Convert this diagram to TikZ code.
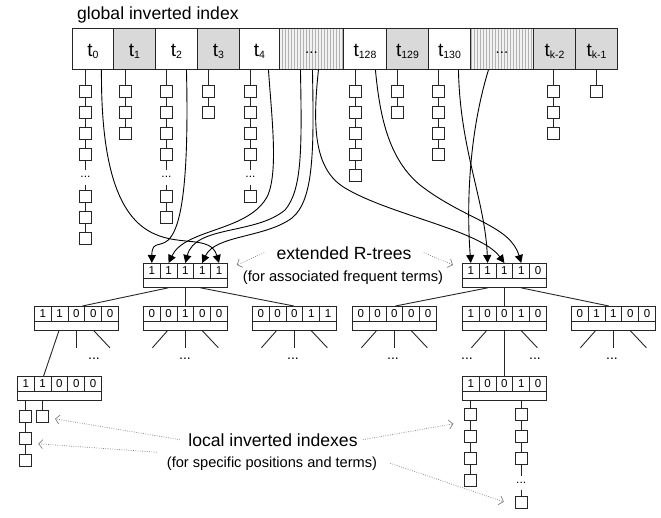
\documentclass[tikz,border=0pt]{standalone}
\usepackage{fontspec}
\setmainfont{Liberation Sans}
\usetikzlibrary{arrows.meta,patterns,calc}

\newcommand\fsz[1]{\fontsize{#1}{#1}\selectfont}
\newcommand\tsub[1]{\raisebox{-2pt}{\fsz{10.5}#1}}
\def\pltxts{}
\def\pltxtd{...}

% posting list hanging below the coordinate (#1-h):
% #2 offset of the first item, #3 pitch, #4 items (s = entry box, d = dots)
\newcommand\plist[4]{%
  \foreach \kind [count=\k, remember=\k as \prev (initially h)] in {#4} {%
    \path (#1-h) ++(0,{#2+#3*(\k-1)}) node[pl\kind] (#1-\k) {\csname pltxt\kind\endcsname};
    \draw[link] (#1-\prev) -- (#1-\k);
  }%
}

\tikzset{
  term/.style={draw=black!85, line width=0.9pt, minimum height=41pt, inner sep=0,
    anchor=north west, font=\fsz{19}, text height=15pt, text depth=0pt},
  termg/.style={term, fill=black!15},
  termd/.style={term, preaction={fill=black!5}, pattern=vertical lines,
    pattern color=black!30, font=\fsz{15}, text height=10pt},
  bitcell/.style={draw=black!85, line width=0.8pt, minimum width=16.8pt, minimum height=15pt,
    inner sep=0, anchor=north west, font=\fsz{11.5}},
  bitbar/.style={draw=black!85, line width=0.8pt, minimum width=84pt, minimum height=9pt,
    inner sep=0, anchor=north west},
  pls/.style={draw=black!85, line width=0.8pt, minimum width=12pt, minimum height=12pt, inner sep=0},
  pld/.style={minimum height=14pt, inner sep=0, yshift=-2pt, font=\fsz{12}},
  link/.style={line width=0.8pt, draw=black!85},
  edge/.style={line width=0.9pt, draw=black!85},
  flow/.style={line width=0.9pt, -{Triangle[length=8pt,width=8pt]}},
  note/.style={draw=black!50, line width=0.7pt, dash pattern=on 0.8pt off 1.5pt,
    -{Straight Barb[length=4pt,width=9pt,line width=0.7pt]}},
  treedots/.style={font=\fsz{14}, inner sep=0},
  bitbox/.pic={
    \foreach \b [count=\i] in {#1} {
      \node[bitcell] (-c\i) at ({16.8*(\i-1)},0) {\b};
    }
    \node[bitbar] (-bar) at (0,15) {};
  }
}

\begin{document}
\begin{tikzpicture}[x=1pt, y=-1pt]
\useasboundingbox (0,0) rectangle (661,517);

\node[anchor=base west, font=\fsz{17.6}, inner sep=0] (title) at (77,19) {global inverted index};

% global term table
\node[term,  minimum width=41pt] (t0)   at (72,28)  {t\tsub{0}};
\node[termg, minimum width=42pt] (t1)   at (113,28) {t\tsub{1}};
\node[term,  minimum width=42pt] (t2)   at (155,28) {t\tsub{2}};
\node[termg, minimum width=42pt] (t3)   at (197,28) {t\tsub{3}};
\node[term,  minimum width=40pt] (t4)   at (239,28) {t\tsub{4}};
\node[termd, minimum width=64pt] (d1)   at (279,28) {...};
\node[term,  minimum width=43pt] (t128) at (343,28) {t\tsub{128}};
\node[termg, minimum width=42pt] (t129) at (386,28) {t\tsub{129}};
\node[term,  minimum width=42pt] (t130) at (428,28) {t\tsub{130}};
\node[termd, minimum width=63pt] (d2)   at (470,28) {...};
\node[termg, minimum width=42pt] (tk2)  at (533,28) {t\tsub{k-2}};
\node[termg, minimum width=42pt] (tk1)  at (575,28) {t\tsub{k-1}};

% posting lists of the global index
\coordinate (p0-h)   at ([xshift=-7.5]t0.south);
\coordinate (p1-h)   at ([xshift=-9]t1.south);
\coordinate (p2-h)   at ([xshift=-10]t2.south);
\coordinate (p3-h)   at ([xshift=-10]t3.south);
\coordinate (p4-h)   at ([xshift=-9]t4.south);
\coordinate (p128-h) at ([xshift=-9.5]t128.south);
\coordinate (p129-h) at ([xshift=-10]t129.south);
\coordinate (p130-h) at ([xshift=-11]t130.south);
\coordinate (pk2-h)  at ([xshift=-1]tk2.south);
\coordinate (pk1-h)  at (tk1.south);
\plist{p0}{21}{21.1}{s,s,s,s,d,s,s,s}
\plist{p1}{21}{21.1}{s,s,s}
\plist{p2}{21}{21.1}{s,s,s,s,d,s,s}
\plist{p3}{21}{21.1}{s,s}
\plist{p4}{21}{21.1}{s,s,s,s,d,s}
\plist{p128}{21}{21.1}{s,s,s,s,s}
\plist{p129}{21}{21.1}{s,s}
\plist{p130}{21}{21.1}{s,s,s,s}
\plist{pk2}{21}{21.1}{s,s,s}
\plist{pk1}{21}{21.1}{s}

% extended R-trees
\pic (rL)  at (143,263) {bitbox={1,1,1,1,1}};
\pic (rR)  at (462,263) {bitbox={1,1,1,1,0}};
\pic (b1)  at (34,306)  {bitbox={1,1,0,0,0}};
\pic (b2)  at (143,306) {bitbox={0,0,1,0,0}};
\pic (b3)  at (252,306) {bitbox={0,0,0,1,1}};
\pic (b4)  at (352,306) {bitbox={0,0,0,0,0}};
\pic (b5)  at (462,306) {bitbox={1,0,0,1,0}};
\pic (b6)  at (571,306) {bitbox={0,1,1,0,0}};
\pic (l3L) at (17,376)  {bitbox={1,1,0,0,0}};
\pic (l3R) at (462,376) {bitbox={1,0,0,1,0}};

% root to child edges
\draw[edge] ([xshift=-17]rL-bar.south) -- ([xshift=6]b1-c3.north);
\draw[edge] (rL-bar.south) -- (b2-c3.north);
\draw[edge] ([xshift=15]rL-bar.south) -- ([xshift=-0.5]b3-c3.north);
\draw[edge] ([xshift=-16.5]rR-bar.south) -- ([xshift=1]b4-c3.north);
\draw[edge] (rR-bar.south) -- (b5-c3.north);
\draw[edge] ([xshift=16.5]rR-bar.south) -- ([xshift=-4.5]b6-c3.north);

% subtrees below the second level
\draw[edge] ([xshift=-17.5]b1-bar.south) -- ([xshift=1]l3L-c2.north);
\draw[edge] (b1-bar.south) -- ++(0,17);
\draw[edge] ([xshift=17.5]b1-bar.south) -- ++(16,17);
\foreach \bx in {b2,b3,b4,b6} {
  \draw[edge] ([xshift=-18]\bx-bar.south) -- ++(-15,17);
  \draw[edge] (\bx-bar.south) -- ++(0,17);
  \draw[edge] ([xshift=17]\bx-bar.south) -- ++(16,17);
}
\draw[edge] ([xshift=-18]b5-bar.south) -- ++(-15,17);
\draw[edge] (b5-bar.south) -- (l3R-c3.north);
\draw[edge] ([xshift=17]b5-bar.south) -- ++(16,17);

\node[treedots] (b1-more)  at (94,359)  {...};
\node[treedots] (b2-more)  at (185,359) {...};
\node[treedots] (b3-more)  at (293,359) {...};
\node[treedots] (b4-more)  at (393,359) {...};
\node[treedots] (b5-moreL) at (467,359) {...};
\node[treedots] (b5-moreR) at (535,359) {...};
\node[treedots] (b6-more)  at (612,359) {...};

% local inverted indexes
\coordinate (ll1-h) at (l3L-bar.south -| l3L-c1.south);
\coordinate (ll2-h) at (l3L-bar.south -| l3L-c2.south);
\coordinate (lr1-h) at (l3R-bar.south -| l3R-c1.south);
\coordinate (lr2-h) at (l3R-bar.south -| l3R-c4.south);
\plist{ll1}{16}{22}{s,s,s}
\plist{ll2}{16}{22}{s}
\plist{lr1}{14}{22}{s,s,s,s}
\plist{lr2}{14}{22}{s,s,s,d,s}

% frequent terms feeding the R-tree roots
\draw[flow] ([xshift=8.5]t0.south) .. controls (100,300) and (205,215) .. (rL-c5.north);
\draw[flow] ([xshift=10]t2.south) .. controls (192,300) and (152,222) .. (rL-c1.north);
\draw[flow] ([xshift=9]t4.south) .. controls (272,120) and (278,170) .. (268,195)
            .. controls (250,232) and (185,228) .. (rL-c2.north);
\draw[flow] ([xshift=-11]d1.south) .. controls (302,150) and (302,190) .. (285,210)
            .. controls (255,235) and (195,225) .. (rL-c3.north);
\draw[flow] ([xshift=1]d1.south) .. controls (314,150) and (314,200) .. (292,218)
            .. controls (265,238) and (215,235) .. (rL-c4.north);
\draw[flow] ([xshift=7]d1.south) .. controls (312,130) and (315,170) .. (345,188)
            .. controls (390,215) and (480,230) .. (rR-c3.north);
\draw[flow] ([xshift=10.5]t128.south) .. controls (380,120) and (390,160) .. (420,185)
            .. controls (465,220) and (510,225) .. (rR-c4.north);
\draw[flow] ([xshift=9]t130.south) .. controls (460,150) and (485,200) .. (rR-c2.north);
\draw[flow] ([xshift=-13.5]d2.south) .. controls (470,130) and (466,200) .. (rR-c1.north);

% annotations
\node[font=\fsz{17.6}, anchor=base, inner sep=0] (ext) at (344,259) {extended R-trees};
\node[font=\fsz{14.7}, anchor=base, inner sep=0] (extsub) at (343,281) {(for associated frequent terms)};
\draw[note] ([xshift=-12]ext.west) -- ($(rL-c5.north east)+(9,2)$);
\draw[note] ([xshift=12]ext.east) -- ($(rR-c1.north west)+(-9,2)$);

\node[font=\fsz{17.6}, anchor=base, inner sep=0] (loc) at (273,446) {local inverted indexes};
\node[font=\fsz{14.6}, anchor=base, inner sep=0] (locsub) at (272,467) {(for specific positions and terms)};
\draw[note] ([xshift=-8]loc.west) -- ($(ll2-1.east)+(6,2)$);
\draw[note] ($(locsub.north west)+(-10,-4)$) -- ($(ll1-2.east)+(6,5)$);
\draw[note] ([xshift=5]loc.east) -- ($(lr1-1.west)+(-11,9)$);
\draw[note] ([xshift=13]locsub.east) -- ($(lr2-5.west)+(-11,-1)$);
\end{tikzpicture}
\end{document}
